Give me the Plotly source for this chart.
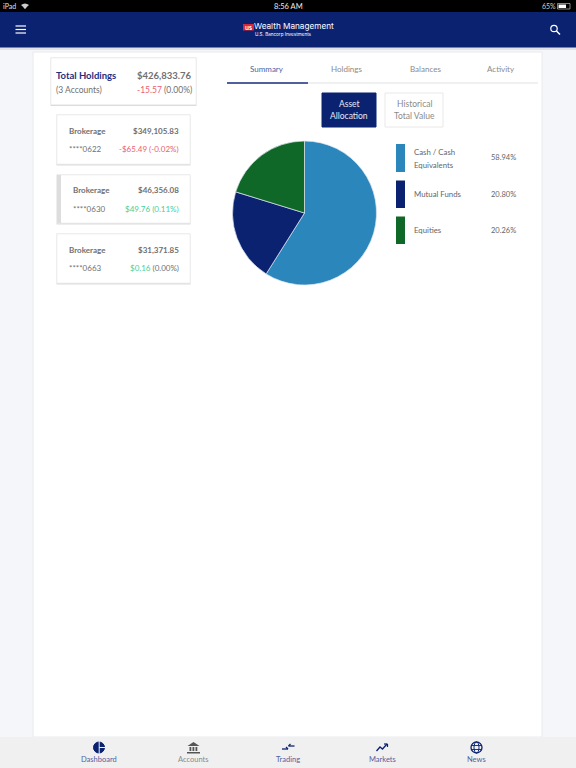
import plotly.graph_objects as go

# ---- data ----
asset_classes = ["Cash / Cash Equivalents", "Mutual Funds", "Equities"]
asset_values = [58.94, 20.80, 20.26]
asset_colors = ["#2b86bc", "#0b2271", "#0f6728"]
tabs = ["Summary", "Holdings", "Balances", "Activity"]
nav_items = ["Dashboard", "Accounts", "Trading", "Markets", "News"]

W, H = 576, 768
FONT = "Lato"
NAVY = "#0b2271"
GREY = "#707070"
RED = "#ea6070"
GREEN = "#45d09a"

def fx(x): return x / W
def fy(y): return 1 - y / H

shapes, notes = [], []

def rect(x0, y0, x1, y1, fill, line=None, lw=1):
    shapes.append(dict(type="rect", xref="paper", yref="paper", x0=fx(x0), x1=fx(x1), y0=fy(y0), y1=fy(y1),
                       fillcolor=fill, line=dict(color=line or fill, width=lw if line else 0), layer="below"))

def top_rect(x0, y0, x1, y1, fill):
    shapes.append(dict(type="rect", xref="paper", yref="paper", x0=fx(x0), x1=fx(x1), y0=fy(y0), y1=fy(y1),
                       fillcolor=fill, line=dict(width=0), layer="above"))

def line(x0, y0, x1, y1, color, w=1):
    shapes.append(dict(type="line", xref="paper", yref="paper", x0=fx(x0), x1=fx(x1), y0=fy(y0), y1=fy(y1),
                       line=dict(color=color, width=w), layer="above"))

def circle(cx, cy, r, fill, edge=None, lw=1):
    shapes.append(dict(type="circle", xref="paper", yref="paper", x0=fx(cx-r), x1=fx(cx+r), y0=fy(cy+r), y1=fy(cy-r),
                       fillcolor=fill, line=dict(color=edge or fill, width=lw), layer="above"))

def text(x, y, s, size=9, color=GREY, anchor="left", bold=False, family=FONT):
    if bold: s = f"<b>{s}</b>"
    notes.append(dict(xref="paper", yref="paper", x=fx(x), y=fy(y), text=s, showarrow=False, xanchor=anchor,
                      yanchor="middle", align=anchor, font=dict(size=size, color=color, family=family),
                      borderpad=0, borderwidth=0))

def card(x0, y0, x1, y1):
    rect(x0-0.5, y0-0.5, x1+0.5, y1+1.5, "#dcdcdc")
    rect(x0, y0, x1, y1, "#ffffff", "#f0f0f0", 0.8)

# page
rect(0, 0, W, H, "#f5f6f9")
rect(33, 52, 542, 737, "#ffffff", "#e9eaed", 1)
rect(0, 47, W, 50, "#e2e3e7")
rect(0, 12, W, 47.5, NAVY)
rect(0, 0, W, 12, "#000000")
rect(0, 737, W, H, "#f0f0f0")

# status bar
text(3, 6, "iPad", 7, "#e0e0e0")
text(288.5, 6, "8:56 AM", 7.5, "#eeeeee", "center")
text(556, 6, "65%", 7, "#cfcfcf", "right")
shapes.append(dict(type="rect", xref="paper", yref="paper", x0=fx(557.5), x1=fx(570), y0=fy(9), y1=fy(3.5),
                   fillcolor="rgba(0,0,0,0)", line=dict(color="#bbbbbb", width=0.7), layer="above"))
top_rect(558.5, 4.5, 566, 8, "#ffffff")
circle(25, 7.5, 0.8, "#eeeeee")
shapes.append(dict(type="path", xref="paper", yref="paper",
                   path=f"M {fx(21)} {fy(5)} Q {fx(25)} {fy(2)} {fx(29)} {fy(5)} L {fx(25)} {fy(8.5)} Z",
                   fillcolor="#cccccc", line=dict(width=0), layer="above"))

# header
for y in (26, 29.5, 33):
    line(15.5, y, 26, y, "#ffffff", 1.2)
circle(554, 28.5, 3.2, "rgba(0,0,0,0)", "#ffffff", 1.2)
line(556.5, 31, 560, 34.5, "#ffffff", 1.5)
top_rect(243, 24, 254, 30.5, "#d4263d")
text(248.5, 27.3, "us", 7, "#ffffff", "center", True)
text(254, 26.2, "Wealth Management", 8.2, "#ffffff", "left", family="Inter")
text(255, 34, "U.S. Bancorp Investments", 4.6, "#ffffff", "left", family="Inter")

# left cards
card(51, 58, 196, 104.5)
text(56, 75.5, "Total Holdings", 9.5, "#1c2f80", bold=True)
text(191.5, 75.5, "$426,833.76", 9.5, GREY, "right", True)
text(56, 89.5, "(3 Accounts)", 8.5, GREY)
text(191.5, 89.5, f'<span style="color:{RED}">-15.57</span> (0.00%)', 8.5, GREY, "right")

card(57, 115, 190, 164)
text(68.5, 130.5, "Brokerage", 8, GREY, bold=True)
text(178.5, 130.5, "$349,105.83", 8, GREY, "right", True)
text(68.5, 149, "****0622", 8, GREY)
text(178.5, 149, "-$65.49 (-0.02%)", 8, RED, "right")

card(57, 175, 190, 223)
rect(57, 175, 61, 223, "#dddddd")
text(72.5, 190, "Brokerage", 8, GREY, bold=True)
text(178.5, 190, "$46,356.08", 8, GREY, "right", True)
text(72.5, 208.5, "****0630", 8, GREY)
text(178.5, 208.5, "$49.76 (0.11%)", 8, GREEN, "right")

card(57, 234, 190, 283)
text(68.5, 249.5, "Brokerage", 8, GREY, bold=True)
text(178.5, 249.5, "$31,371.85", 8, GREY, "right", True)
text(68.5, 268, "****0663", 8, GREY)
text(178.5, 268, f'<span style="color:{GREEN}">$0.16</span> (0.00%)', 8, GREY, "right")

# tabs
rect(227, 82.5, 538, 83.5, "#dfe1e6")
rect(227, 82, 308, 84, "#50609f")
for t, x, c in zip(tabs, (267, 346.5, 425, 501), ("#50609f", "#8a8a8a", "#8a8a8a", "#8a8a8a")):
    text(x, 69.5, t, 8, c, "center")

# buttons
rect(322, 93, 376, 127, NAVY, "#0b2271")
text(349, 104, "Asset", 8.5, "#e8e8f0", "center")
text(349, 115.5, "Allocation", 8.5, "#e8e8f0", "center")
rect(385, 93, 443, 127, "#ffffff", "#e8e8e8")
text(414, 104, "Historical", 8.5, "#8a8a8a", "center")
text(414, 115.5, "Total Value", 8.5, "#8a8a8a", "center")

# legend
for (y0, y1), col in zip(((144, 172), (180.5, 208), (216.5, 244)), asset_colors):
    rect(396, y0, 405, y1, col)
text(414, 152, "Cash / Cash", 7.8, "#666666")
text(414, 164.5, "Equivalents", 7.8, "#666666")
text(414, 194, asset_classes[1], 7.8, "#666666")
text(414, 230, asset_classes[2], 7.8, "#666666")
for y, v in zip((158, 194, 230), asset_values):
    text(515.5, y, f"{v:.2f}%", 7.5, "#666666", "right")

# bottom nav
for n, x, c in zip(nav_items, (99, 193.5, 288, 382, 476.5), ("#50609f", "#8a8a8a", "#50609f", "#50609f", "#50609f")):
    text(x, 759, n, 7.5, c, "center")
# dashboard icon
circle(99, 747.5, 5.5, NAVY)
top_rect(98.7, 741, 99.7, 754, "#f0f0f0")
top_rect(99, 747, 106, 748, "#f0f0f0")
# accounts icon
shapes.append(dict(type="path", xref="paper", yref="paper",
                   path=f"M {fx(187.5)} {fy(746)} L {fx(193.5)} {fy(742)} L {fx(199.5)} {fy(746)} Z",
                   fillcolor="#555555", line=dict(width=0), layer="above"))
for x in (189.5, 192.5, 195.5):
    top_rect(x, 747, x+1.8, 751, "#555555")
top_rect(187, 752, 200, 753.5, "#555555")
# trading icon
line(282, 749, 288, 749, NAVY, 1.3)
line(288.5, 746, 294.5, 746, NAVY, 1.3)
line(286, 747, 288, 749, NAVY, 1.3)
line(290.5, 744, 288.5, 746, NAVY, 1.3)
# markets icon
shapes.append(dict(type="path", xref="paper", yref="paper",
                   path=f"M {fx(376.5)} {fy(751)} L {fx(380)} {fy(747)} L {fx(382.5)} {fy(749)} L {fx(387)} {fy(744)}",
                   line=dict(color=NAVY, width=1.3), layer="above"))
line(384, 744, 387.5, 744, NAVY, 1.2)
line(387.5, 744, 387.5, 747, NAVY, 1.2)
# news icon
circle(476.5, 747.5, 5.5, "rgba(0,0,0,0)", NAVY, 1.3)
shapes.append(dict(type="circle", xref="paper", yref="paper", x0=fx(474), x1=fx(479), y0=fy(753), y1=fy(742),
                   fillcolor="rgba(0,0,0,0)", line=dict(color=NAVY, width=1), layer="above"))
line(471, 745.5, 482, 745.5, NAVY, 0.9)
line(471, 749.5, 482, 749.5, NAVY, 0.9)

# pie
cx, cy, r = 304.5, 213, 72
fig = go.Figure(go.Pie(labels=asset_classes, values=asset_values, sort=False, direction="clockwise", rotation=0,
                       marker=dict(colors=asset_colors, line=dict(color="#dfe6f0", width=0.7)),
                       textinfo="none", hoverinfo="label+percent", showlegend=False,
                       domain=dict(x=[fx(cx-r), fx(cx+r)], y=[fy(cy+r), fy(cy-r)])))
fig.update_layout(width=W, height=H, margin=dict(l=0, r=0, t=0, b=0), paper_bgcolor="#f5f6f9",
                  plot_bgcolor="#f5f6f9", shapes=shapes, annotations=notes, showlegend=False,
                  font=dict(family=FONT))
fig.write_html("out.html", config=dict(displayModeBar=False),
               post_script="document.body.style.margin='0';document.documentElement.style.overflow='hidden';")
